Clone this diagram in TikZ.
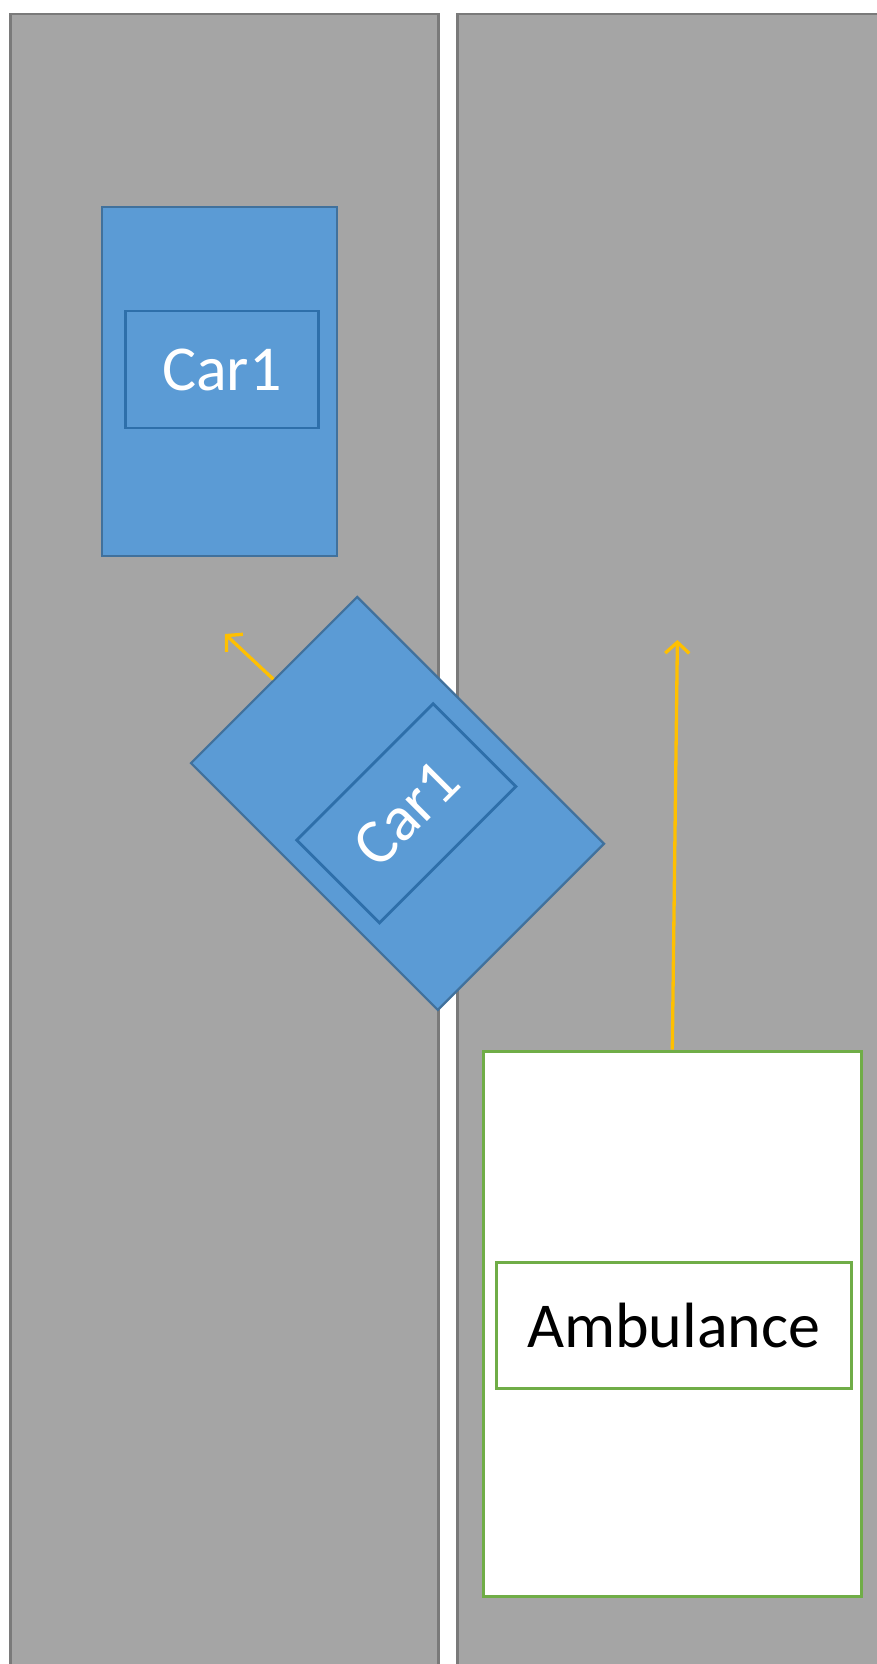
\documentclass[tikz,border=0pt]{standalone}
\usepackage{fontspec}
\setmainfont{Carlito}
\usetikzlibrary{arrows.meta}
\definecolor{roadgray}{HTML}{A5A5A5}
\definecolor{roadedge}{HTML}{7A7A7A}
\definecolor{carblue}{HTML}{5B9BD5}
\definecolor{caredge}{HTML}{41719C}
\definecolor{labedge}{HTML}{2E6FAA}
\definecolor{ambgreen}{HTML}{70AD47}
\definecolor{arrowyellow}{HTML}{FFC000}
\tikzset{
  road/.style={fill=roadgray, draw=roadedge, line width=2.5pt},
  carbody/.style={draw=caredge, fill=carblue, line width=2.2pt, inner sep=0pt, minimum width=235pt, minimum height=349pt},
  carlabel/.style={draw=labedge, fill=carblue, line width=2.8pt, inner sep=0pt, minimum width=193pt, minimum height=117pt, text=white, font=\fontsize{64}{70}\selectfont},
  ambbody/.style={draw=ambgreen, fill=white, line width=3pt, inner sep=0pt, minimum width=378pt, minimum height=545pt},
  amblabel/.style={draw=ambgreen, fill=white, line width=3pt, inner sep=0pt, minimum width=355pt, minimum height=126pt, text=black, font=\fontsize{64}{70}\selectfont},
  movearrow/.style={draw=arrowyellow, line width=3.3pt, -{Straight Barb[length=11pt,width=24pt,line width=3.3pt]}}
}
\begin{document}
\begin{tikzpicture}[x=1pt,y=-1pt]
\useasboundingbox[fill=white] (0,0) rectangle (877,1664);
% roads
\path[road] (10.6,1670) -- (10.6,13.8) -- (438.5,13.8) -- (438.5,1670);
\path[road] (457.6,1670) -- (457.6,13.8) -- (885,13.8) -- (885,1670);
% upright car
\node[carbody] (car1) at (219.8,381.5) {};
\node[carlabel] (car1lab) at (221.8,369.5) {Car1};
% rotated car
\node[carbody, rotate=45] (car2) at (397.5,803.4) {};
\node[carlabel, rotate=45] (car2lab) at (406.3,813.3) {Car1};
\coordinate (car2tip) at (225,634);
\draw[movearrow] (car2.north) -- (car2tip);
% ambulance
\node[ambbody] (amb) at (672.3,1323.5) {};
\node[amblabel] (amblab) at (673.8,1325.3) {Ambulance};
\coordinate (ambtip) at (677.4,640);
\draw[movearrow] (amb.north) -- (ambtip);
\end{tikzpicture}
\end{document}
